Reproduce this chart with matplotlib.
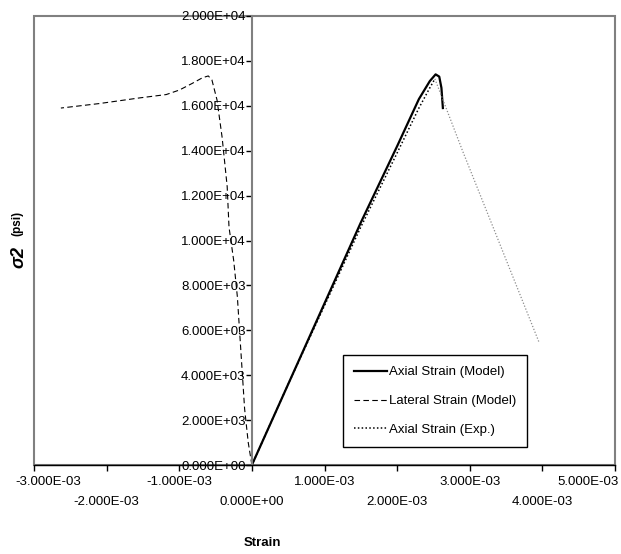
import matplotlib
matplotlib.use("Agg")
import matplotlib.pyplot as plt
from matplotlib.patches import Rectangle
from matplotlib.transforms import ScaledTranslation

# axial strain, model
axial_model_x = [0.0, 0.5e-3, 1.0e-3, 1.5e-3, 2.0e-3, 2.3e-3, 2.45e-3, 2.53e-3, 2.58e-3, 2.61e-3, 2.63e-3]
axial_model_y = [0.0, 3.6e3, 7.2e3, 10.8e3, 14.2e3, 16.3e3, 17.1e3, 17.4e3, 17.3e3, 16.8e3, 15.9e3]

# lateral strain, model
lateral_x = [0.0, -0.05e-3, -0.10e-3, -0.20e-3, -0.25e-3, -0.315e-3, -0.34e-3, -0.41e-3,
             -0.48e-3, -0.55e-3, -0.60e-3, -0.68e-3, -0.82e-3, -1.00e-3, -1.18e-3,
             -1.55e-3, -2.10e-3, -2.63e-3]
lateral_y = [0.0, 1.0e3, 2.5e3, 7.5e3, 9.1e3, 10.6e3, 12.4e3, 14.6e3,
             16.26e3, 17.15e3, 17.33e3, 17.25e3, 17.0e3, 16.7e3, 16.5e3,
             16.35e3, 16.1e3, 15.9e3]

# axial strain, experiment (rising branch, then post-peak branch)
axial_exp_x = [0.0, 0.5e-3, 1.0e-3, 1.5e-3, 2.0e-3, 2.3e-3, 2.45e-3, 2.52e-3, 2.9e-3, 3.37e-3, 3.95e-3]
axial_exp_y = [0.0, 3.6e3, 7.1e3, 10.6e3, 13.9e3, 15.9e3, 16.8e3, 17.2e3, 14.0e3, 10.2e3, 5.5e3]
exp_peak = 7

xticks = [-3e-3, -2e-3, -1e-3, 0.0, 1e-3, 2e-3, 3e-3, 4e-3, 5e-3]
yticks = [0, 2e3, 4e3, 6e3, 8e3, 10e3, 12e3, 14e3, 16e3, 18e3, 20e3]

plt.rcParams['font.family'] = ['Liberation Sans', 'DejaVu Sans']

fig = plt.figure(figsize=(6.21, 5.54), dpi=100)
ax = fig.add_axes([34 / 621, 89 / 554, 581 / 621, 449 / 554])

ax.plot(axial_model_x, axial_model_y, color='black', lw=1.6, label='Axial Strain (Model)')
ax.plot(lateral_x, lateral_y, color='black', lw=0.8, linestyle=(0, (5, 3)),
        label='Lateral Strain (Model)')
ax.plot(axial_exp_x[:exp_peak + 1], axial_exp_y[:exp_peak + 1], color='black', lw=1.1,
        linestyle=(0, (1, 1.5)), label='Axial Strain (Exp.)')
ax.plot(axial_exp_x[exp_peak:], axial_exp_y[exp_peak:], color='#8c8c8c', lw=0.9,
        linestyle=(0, (1, 1.5)))

ax.set_xlim(-3e-3, 5e-3)
ax.set_ylim(0, 2e4)

# plot area frame
ax.add_patch(Rectangle((0, 0), 1, 1, transform=ax.transAxes, fill=False,
                       edgecolor='#808080', lw=1.5, clip_on=False, zorder=0.5))
ax.spines['top'].set_visible(False)
ax.spines['right'].set_visible(False)
ax.spines['left'].set_position(('data', 0))
ax.spines['left'].set_color('#808080')
ax.spines['left'].set_linewidth(1.5)
ax.spines['bottom'].set_color('black')
ax.spines['bottom'].set_linewidth(1.0)

ax.set_xticks(xticks)
ax.set_xticklabels([f"{v:.3E}" for v in xticks])
ax.set_yticks(yticks)
ax.set_yticklabels([f"{v:.3E}" for v in yticks])
ax.tick_params(axis='x', direction='out', length=4, width=1, pad=4, labelsize=9.5)
ax.tick_params(axis='y', direction='out', length=4, width=1, pad=0.5, labelsize=9.5)

# staggered x labels, end labels pulled inside the frame
xlabels = ax.get_xticklabels()
for i, lab in enumerate(xlabels):
    if i % 2 == 1:
        lab.set_y(-0.045)
xlabels[0].set_transform(xlabels[0].get_transform() + ScaledTranslation(14 / 100, 0, fig.dpi_scale_trans))
xlabels[-1].set_transform(xlabels[-1].get_transform() + ScaledTranslation(-27 / 100, 0, fig.dpi_scale_trans))

fig.text(262 / 621, 1 - 543 / 554, 'Strain', ha='center', va='center',
         fontsize=9.5, fontweight='bold')
fig.text(19 / 621, 1 - 257 / 554, 'σ2', rotation=90, ha='center', va='center',
         fontsize=13, fontweight='bold', fontstyle='italic')
fig.text(17 / 621, 1 - 223 / 554, '(psi)', rotation=90, ha='center', va='center',
         fontsize=8.5, fontweight='bold')

leg = ax.legend(loc='upper left', bbox_to_anchor=(0.532, 0.245), borderaxespad=0,
                fontsize=9.5, frameon=True, fancybox=False, framealpha=1,
                edgecolor='black', handlelength=2.5, handletextpad=0.1,
                labelspacing=1.25, borderpad=0.85)
leg.get_frame().set_linewidth(1.0)

fig.savefig('out.png', dpi=100)
